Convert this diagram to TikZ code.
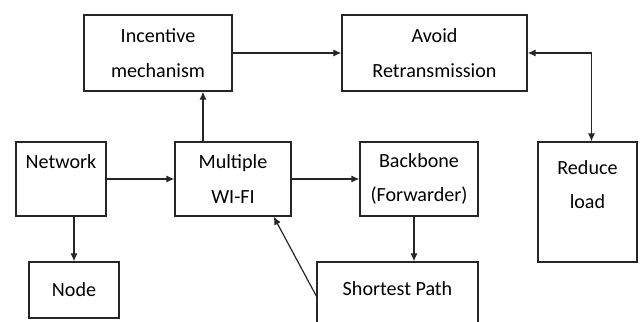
\documentclass[tikz,border=0pt]{standalone}
\usepackage{fontspec}
\setmainfont{Carlito}
\usetikzlibrary{arrows.meta,positioning}

\begin{document}
\begin{tikzpicture}[
  x=0.025cm,y=-0.025cm,
  box/.style ={rectangle,draw=black!85,line width=0.95pt,inner sep=0pt,
               align=center,font=\fontsize{14.3}{24.5}\selectfont},
  ar/.style  ={-{Latex[length=2mm,width=1.8mm]},line width=0.85pt,color=black!85},
  dar/.style ={{Latex[length=2mm,width=1.8mm]}-{Latex[length=2mm,width=1.8mm]},
               line width=0.85pt,color=black!85}
]
\path[use as bounding box,fill=white] (0,0) rectangle (640,322);
\clip (0,0) rectangle (640,322);
\node[box,minimum width=3.7cm,minimum height=1.9cm]    (inc)    at (158,53)    {Incentive\\mechanism};
\node[box,minimum width=4.625cm,minimum height=1.9cm]  (avoid)  at (434.5,53)  {Avoid\\Retransmission};
\node[box,minimum width=2.25cm,minimum height=1.85cm]  (net)    at (61,179)    {Network\\~};
\node[box,minimum width=2.9cm,minimum height=1.85cm]   (wifi)   at (233,179)   {Multiple\\WI-FI};
\node[box,minimum width=2.95cm,minimum height=1.85cm]  (bb)     at (419,179)   {Backbone\\(Forwarder)};
\node[box,minimum width=2.475cm,minimum height=3cm]    (reduce) at (587.5,202) {Reduce\\load\\~};
\node[box,minimum width=2.25cm,minimum height=1.4cm]   (node)   at (74,290)    {Node};
\node[box,minimum width=4.025cm,minimum height=2.2cm]  (sp)     at (397.5,306) {Shortest Path\\~};
\coordinate (w1) at ([xshift=-0.75cm]wifi.north);
\coordinate (b1) at ([xshift=-0.125cm]bb.south);
\draw[ar] (inc) -- (avoid);
\draw[dar] (avoid.east) -| ([xshift=0.1cm]reduce.north);
\draw[ar] (w1) -- (w1 |- inc.south);
\draw[ar] (net) -- (wifi);
\draw[ar] (wifi) -- (bb);
\draw[ar] (node.north |- net.south) -- (node.north);
\draw[ar] (b1) -- (b1 |- sp.north);
\draw[ar] ([yshift=0.25cm]sp.west) -- ([xshift=-0.45cm]wifi.south east);
\end{tikzpicture}
\end{document}
